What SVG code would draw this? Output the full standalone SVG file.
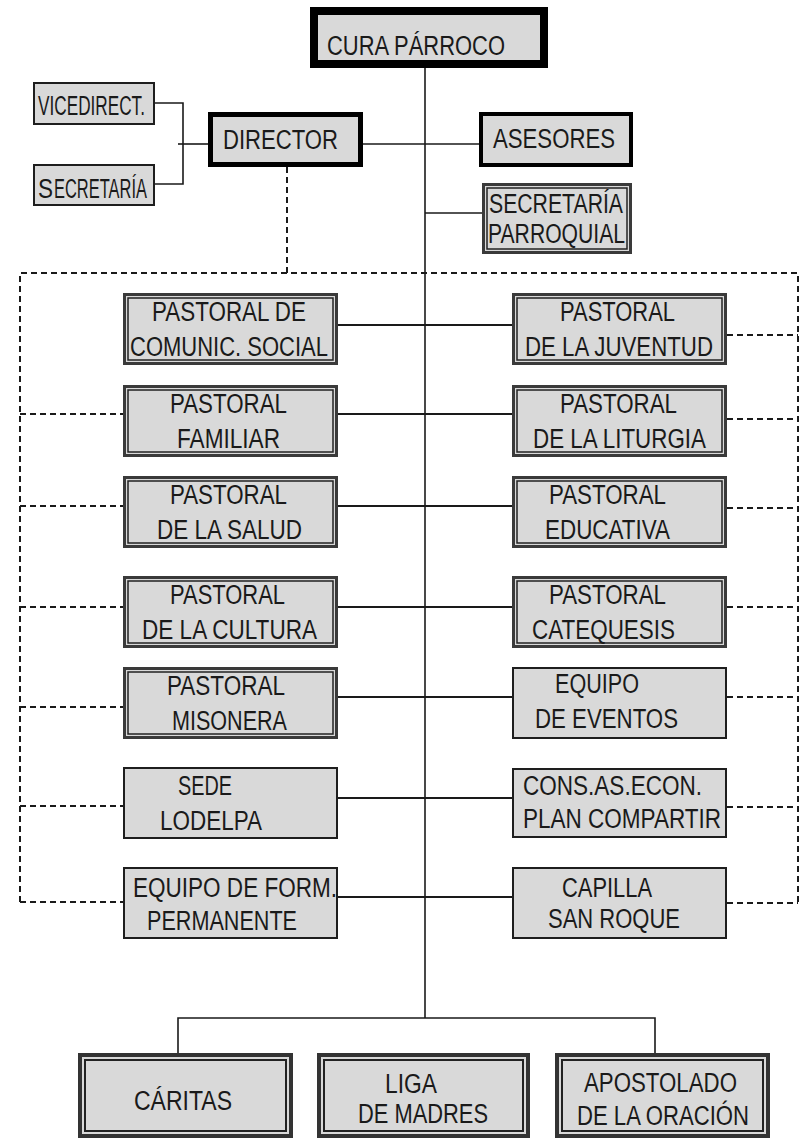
<svg xmlns="http://www.w3.org/2000/svg" width="800" height="1142" viewBox="0 0 800 1142">
<style>
.bo{fill:#d9d9d9;stroke:#3a3a3a;stroke-width:3}
.bi{fill:none;stroke:#222;stroke-width:1.5}
.hbo{fill:#d9d9d9;stroke:#333;stroke-width:4}
.hbi{fill:none;stroke:#222;stroke-width:2}
.sg{fill:#d9d9d9;stroke:#1e1e1e;stroke-width:2}
.t{font-family:"Liberation Sans",Arial,sans-serif;fill:#1a1a1a;font-size:27px}
.ln{stroke:#1a1a1a;stroke-width:1.6;fill:none}
.lr{stroke:#1a1a1a;stroke-width:2;fill:none}
.ds{stroke:#1a1a1a;stroke-width:2;stroke-dasharray:6 4;fill:none}
</style>
<rect width="800" height="1142" fill="#fff"/>
<g id="connectors">
  <line class="ln" x1="425" y1="68" x2="425" y2="1018"/>
  <polyline class="ln" points="155,103 183,103 183,184 155,184"/>
  <line class="ln" x1="178" y1="144" x2="208" y2="144"/>
  <line class="ln" x1="363" y1="144" x2="479" y2="144"/>
  <line class="ln" x1="425" y1="213" x2="482" y2="213"/>
  <line class="lr" x1="338" y1="325" x2="512" y2="325"/>
  <line class="lr" x1="338" y1="414" x2="512" y2="414"/>
  <line class="lr" x1="338" y1="506" x2="512" y2="506"/>
  <line class="lr" x1="338" y1="607" x2="512" y2="607"/>
  <line class="lr" x1="338" y1="697" x2="512" y2="697"/>
  <line class="lr" x1="338" y1="798" x2="512" y2="798"/>
  <line class="lr" x1="338" y1="897" x2="512" y2="897"/>
  <polyline class="ln" points="178,1053 178,1018 655,1018 655,1053"/>
  <polyline class="ds" points="287,167 287,273"/>
  <polyline class="ds" points="20,902 20,273 798,273 798,903"/>
  <line class="ds" x1="20" y1="414" x2="123" y2="414"/>
  <line class="ds" x1="20" y1="506" x2="123" y2="506"/>
  <line class="ds" x1="20" y1="607" x2="123" y2="607"/>
  <line class="ds" x1="20" y1="707" x2="123" y2="707"/>
  <line class="ds" x1="20" y1="806" x2="123" y2="806"/>
  <line class="ds" x1="20" y1="902" x2="123" y2="902"/>
  <line class="ds" x1="727" y1="335" x2="798" y2="335"/>
  <line class="ds" x1="727" y1="419" x2="798" y2="419"/>
  <line class="ds" x1="727" y1="508" x2="798" y2="508"/>
  <line class="ds" x1="727" y1="607" x2="798" y2="607"/>
  <line class="ds" x1="727" y1="697" x2="798" y2="697"/>
  <line class="ds" x1="727" y1="807" x2="798" y2="807"/>
  <line class="ds" x1="727" y1="903" x2="798" y2="903"/>
</g>
<g id="cura">
  <rect x="314" y="11" width="230" height="53" fill="#d9d9d9" stroke="#000" stroke-width="8"/>
  <text class="t" x="327" y="55" font-size="31" textLength="178" lengthAdjust="spacingAndGlyphs">CURA PÁRROCO</text>
</g>
<g id="vicedirect">
  <rect class="sg" x="34" y="83" width="120" height="41"/>
  <text class="t" x="38" y="115" font-size="21" textLength="107" lengthAdjust="spacingAndGlyphs">VICEDIRECT.</text>
</g>
<g id="secretaria">
  <rect class="sg" x="34" y="165" width="120" height="40"/>
  <text class="t" x="38" y="198" font-size="29" textLength="15" lengthAdjust="spacingAndGlyphs">S</text>
  <text class="t" x="54" y="198" font-size="21" textLength="93" lengthAdjust="spacingAndGlyphs">ECRETARÍA</text>
</g>
<g id="director">
  <rect x="210.5" y="114.5" width="150" height="50" fill="#d9d9d9" stroke="#000" stroke-width="5"/>
  <text class="t" x="223" y="149" font-size="26" textLength="115" lengthAdjust="spacingAndGlyphs">DIRECTOR</text>
</g>
<g id="asesores">
  <rect x="481" y="114" width="150" height="51" fill="#d9d9d9" stroke="#000" stroke-width="4"/>
  <text class="t" x="493" y="148" textLength="122" lengthAdjust="spacingAndGlyphs">ASESORES</text>
</g>
<g id="secretaria-parroquial">
  <rect class="bo" x="483.5" y="184.5" width="147" height="68"/>
  <rect class="bi" x="487" y="188" width="140" height="61"/>
  <text class="t" x="489" y="213" font-size="25" textLength="134" lengthAdjust="spacingAndGlyphs">SECRETARÍA</text>
  <text class="t" x="488" y="243" font-size="25" textLength="137" lengthAdjust="spacingAndGlyphs">PARROQUIAL</text>
</g>
<g id="comunic-social">
  <rect class="bo" x="124.5" y="294.5" width="212" height="69"/>
  <rect class="bi" x="128" y="298" width="205" height="62"/>
  <text class="t" x="152" y="321" textLength="154" lengthAdjust="spacingAndGlyphs">PASTORAL DE</text>
  <text class="t" x="130" y="356" textLength="198" lengthAdjust="spacingAndGlyphs">COMUNIC. SOCIAL</text>
</g>
<g id="juventud">
  <rect class="bo" x="513.5" y="294.5" width="212" height="69"/>
  <rect class="bi" x="517" y="298" width="205" height="62"/>
  <text class="t" x="560" y="321" textLength="115" lengthAdjust="spacingAndGlyphs">PASTORAL</text>
  <text class="t" x="525" y="356" textLength="188" lengthAdjust="spacingAndGlyphs">DE LA JUVENTUD</text>
</g>
<g id="familiar">
  <rect class="bo" x="124.5" y="386.5" width="212" height="69"/>
  <rect class="bi" x="128" y="390" width="205" height="62"/>
  <text class="t" x="170" y="413" textLength="117" lengthAdjust="spacingAndGlyphs">PASTORAL</text>
  <text class="t" x="177" y="448" textLength="103" lengthAdjust="spacingAndGlyphs">FAMILIAR</text>
</g>
<g id="liturgia">
  <rect class="bo" x="513.5" y="386.5" width="212" height="69"/>
  <rect class="bi" x="517" y="390" width="205" height="62"/>
  <text class="t" x="560" y="413" textLength="117" lengthAdjust="spacingAndGlyphs">PASTORAL</text>
  <text class="t" x="533" y="448" textLength="173" lengthAdjust="spacingAndGlyphs">DE LA LITURGIA</text>
</g>
<g id="salud">
  <rect class="bo" x="124.5" y="477.5" width="212" height="69"/>
  <rect class="bi" x="128" y="481" width="205" height="62"/>
  <text class="t" x="170" y="504" textLength="117" lengthAdjust="spacingAndGlyphs">PASTORAL</text>
  <text class="t" x="157" y="539" textLength="145" lengthAdjust="spacingAndGlyphs">DE LA SALUD</text>
</g>
<g id="educativa">
  <rect class="bo" x="513.5" y="477.5" width="212" height="69"/>
  <rect class="bi" x="517" y="481" width="205" height="62"/>
  <text class="t" x="549" y="504" textLength="117" lengthAdjust="spacingAndGlyphs">PASTORAL</text>
  <text class="t" x="545" y="539" textLength="125" lengthAdjust="spacingAndGlyphs">EDUCATIVA</text>
</g>
<g id="cultura">
  <rect class="bo" x="124.5" y="577.5" width="212" height="69"/>
  <rect class="bi" x="128" y="581" width="205" height="62"/>
  <text class="t" x="170" y="604" textLength="115" lengthAdjust="spacingAndGlyphs">PASTORAL</text>
  <text class="t" x="142" y="639" textLength="175" lengthAdjust="spacingAndGlyphs">DE LA CULTURA</text>
</g>
<g id="catequesis">
  <rect class="bo" x="513.5" y="577.5" width="212" height="69"/>
  <rect class="bi" x="517" y="581" width="205" height="62"/>
  <text class="t" x="549" y="604" textLength="117" lengthAdjust="spacingAndGlyphs">PASTORAL</text>
  <text class="t" x="532" y="639" textLength="143" lengthAdjust="spacingAndGlyphs">CATEQUESIS</text>
</g>
<g id="misonera">
  <rect class="bo" x="124.5" y="668.5" width="212" height="69"/>
  <rect class="bi" x="128" y="672" width="205" height="62"/>
  <text class="t" x="167" y="695" textLength="118" lengthAdjust="spacingAndGlyphs">PASTORAL</text>
  <text class="t" x="172" y="730" textLength="115" lengthAdjust="spacingAndGlyphs">MISONERA</text>
</g>
<g id="eventos">
  <rect class="sg" x="513" y="668" width="213" height="70"/>
  <text class="t" x="555" y="693" textLength="84" lengthAdjust="spacingAndGlyphs">EQUIPO</text>
  <text class="t" x="535" y="728" textLength="143" lengthAdjust="spacingAndGlyphs">DE EVENTOS</text>
</g>
<g id="lodelpa">
  <rect class="sg" x="124" y="768" width="213" height="70"/>
  <text class="t" x="178" y="795" textLength="54" lengthAdjust="spacingAndGlyphs">SEDE</text>
  <text class="t" x="160" y="830" textLength="102" lengthAdjust="spacingAndGlyphs">LODELPA</text>
</g>
<g id="cons-as-econ">
  <rect class="sg" x="513" y="769" width="213" height="68"/>
  <text class="t" x="523" y="795" textLength="179" lengthAdjust="spacingAndGlyphs">CONS.AS.ECON.</text>
  <text class="t" x="523" y="828" textLength="198" lengthAdjust="spacingAndGlyphs">PLAN COMPARTIR</text>
</g>
<g id="formacion">
  <rect class="sg" x="124" y="868" width="213" height="70"/>
  <text class="t" x="133" y="897" textLength="204" lengthAdjust="spacingAndGlyphs">EQUIPO DE FORM.</text>
  <text class="t" x="147" y="930" textLength="150" lengthAdjust="spacingAndGlyphs">PERMANENTE</text>
</g>
<g id="capilla">
  <rect class="sg" x="513" y="868" width="213" height="70"/>
  <text class="t" x="562" y="897" textLength="90" lengthAdjust="spacingAndGlyphs">CAPILLA</text>
  <text class="t" x="548" y="928" textLength="132" lengthAdjust="spacingAndGlyphs">SAN ROQUE</text>
</g>
<g id="caritas">
  <rect class="hbo" x="80" y="1055" width="211" height="81"/>
  <rect class="hbi" x="85" y="1060" width="201" height="71"/>
  <text class="t" x="134" y="1110" textLength="98" lengthAdjust="spacingAndGlyphs">CÁRITAS</text>
</g>
<g id="liga">
  <rect class="hbo" x="319" y="1055" width="209" height="81"/>
  <rect class="hbi" x="324" y="1060" width="199" height="71"/>
  <text class="t" x="385" y="1093" textLength="52" lengthAdjust="spacingAndGlyphs">LIGA</text>
  <text class="t" x="358" y="1123" textLength="130" lengthAdjust="spacingAndGlyphs">DE MADRES</text>
</g>
<g id="apostolado">
  <rect class="hbo" x="557" y="1055" width="211" height="81"/>
  <rect class="hbi" x="562" y="1060" width="201" height="71"/>
  <text class="t" x="584" y="1092" textLength="153" lengthAdjust="spacingAndGlyphs">APOSTOLADO</text>
  <text class="t" x="577" y="1125" textLength="172" lengthAdjust="spacingAndGlyphs">DE LA ORACIÓN</text>
</g>
</svg>
